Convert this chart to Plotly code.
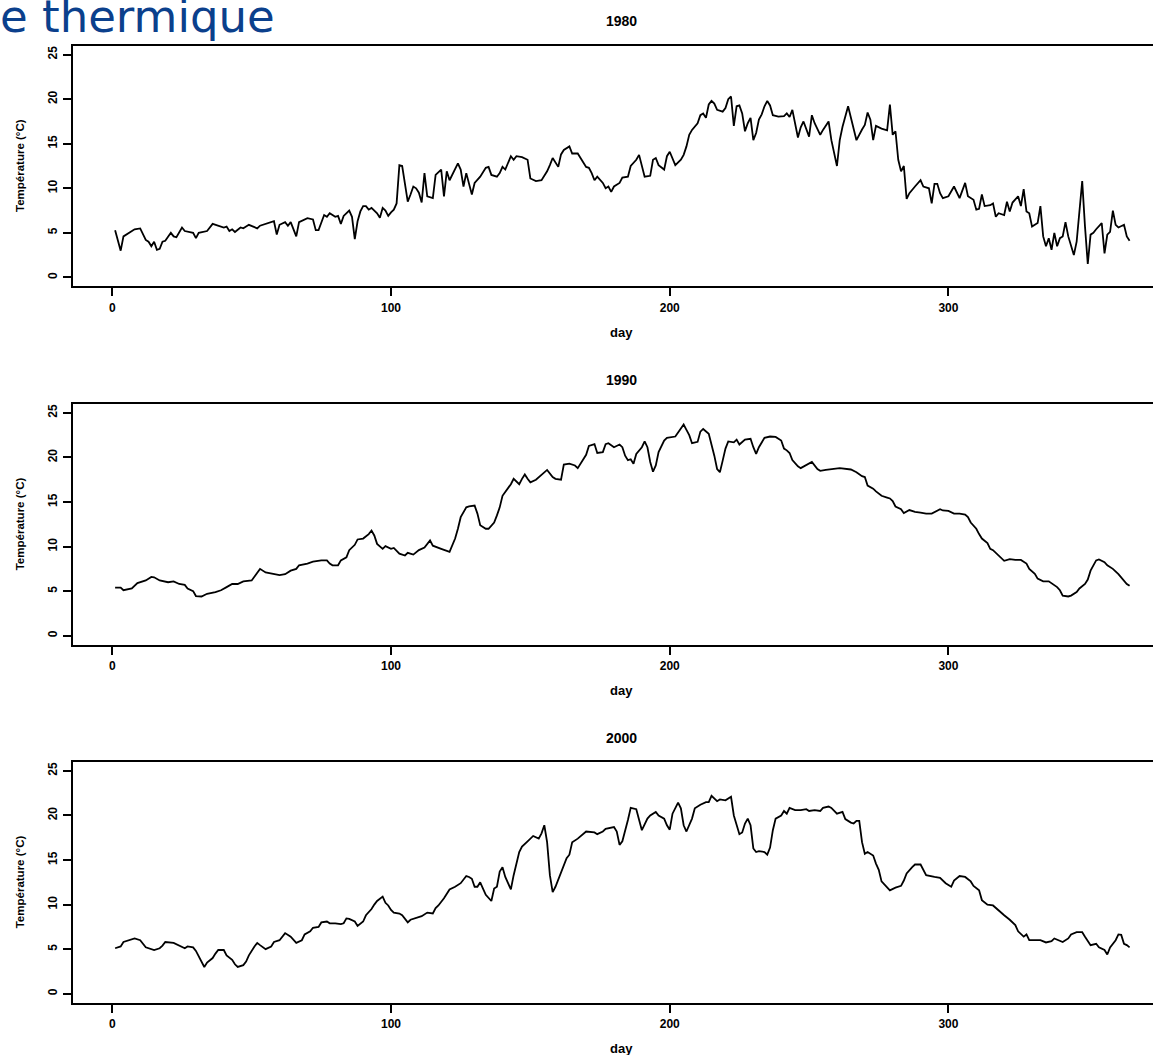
import plotly.graph_objects as go

# Daily water temperature (°C) by day of year, three years
obs_1980 = [(1,5.3),(3,3.0),(4,4.6),(6,5.0),(8,5.4),(10,5.5),(12,4.2),(13,4.0),(14,3.5),(15,4.0),(16,3.1),(17,3.2),(18,4.0),(19,4.1),(21,5.0),(22,4.6),(23,4.5),(25,5.6),(26,5.2),(29,5.0),(30,4.4),(31,5.0),(34,5.2),(36,6.0),(38,5.8),(40,5.6),(41,5.7),(42,5.2),(43,5.4),(44,5.1),(46,5.6),(47,5.5),(49,5.9),(52,5.5),(53,5.8),(56,6.1),(58,6.3),(59,4.8),(60,5.9),(62,6.2),(63,5.8),(64,6.2),(66,4.6),(67,6.2),(70,6.65),(72,6.5),(73,5.3),(74,5.3),(76,7.0),(77,6.8),(78,7.2),(80,6.8),(81,6.9),(82,6.0),(83,6.9),(85,7.5),(86,6.8),(87,4.3),(88,6.3),(89,7.4),(90,8.0),(91,8.0),(92,7.6),(93,7.8),(95,7.2),(96,6.7),(97,7.8),(98,7.5),(99,6.9),(100,7.3),(101,7.6),(102,8.3),(103,12.6),(104,12.5),(105,10.2),(106,8.5),(107,9.3),(108,10.2),(109,10.0),(110,9.5),(111,8.4),(112,11.7),(113,9.1),(114,9.0),(115,8.9),(116,11.5),(118,12.1),(119,9.1),(120,11.9),(121,10.9),(124,12.8),(125,12.1),(126,10.2),(127,11.7),(128,10.6),(129,9.3),(130,10.6),(132,11.3),(134,12.3),(135,12.4),(136,11.5),(138,11.3),(139,11.7),(140,12.4),(141,12.1),(143,13.6),(144,13.2),(145,13.6),(147,13.5),(149,13.2),(150,11.1),(152,10.8),(154,10.9),(156,11.9),(157,12.6),(158,13.4),(160,12.4),(161,13.8),(162,14.3),(164,14.7),(165,13.9),(167,13.9),(168,13.4),(170,12.4),(171,12.3),(172,11.7),(173,10.9),(174,11.3),(176,10.6),(177,10.0),(178,10.2),(179,9.6),(180,10.2),(182,10.6),(183,11.2),(185,11.3),(186,12.5),(188,13.2),(189,13.75),(190,12.4),(191,11.3),(193,11.4),(194,13.2),(195,13.4),(196,12.6),(198,12.1),(199,13.6),(200,14.1),(201,13.4),(202,12.6),(204,13.2),(205,13.75),(206,14.7),(207,16.0),(208,16.55),(210,17.3),(211,18.2),(212,18.4),(213,17.9),(214,19.4),(215,19.8),(216,19.5),(217,18.8),(219,18.6),(220,19.0),(221,20.0),(222,20.3),(223,17.0),(224,19.2),(225,19.3),(226,18.4),(227,16.4),(228,17.3),(229,17.9),(230,15.4),(231,16.2),(232,17.7),(233,18.3),(234,19.2),(235,19.8),(236,19.3),(237,18.2),(239,18.05),(241,18.1),(242,18.4),(243,18.0),(244,18.8),(245,17.3),(246,15.7),(247,16.85),(248,17.5),(250,15.8),(251,18.2),(252,17.3),(254,16.0),(255,16.55),(257,17.5),(258,15.4),(260,12.5),(261,15.4),(262,16.9),(264,19.2),(266,16.55),(267,15.4),(269,16.6),(270,17.1),(271,18.5),(272,17.7),(273,15.4),(274,17.0),(276,16.7),(278,16.5),(279,19.4),(280,16.0),(281,16.4),(282,13.2),(283,11.9),(284,12.5),(285,8.8),(286,9.45),(288,10.2),(290,10.9),(291,10.2),(293,10.0),(294,8.3),(295,10.5),(296,10.5),(297,9.45),(298,8.9),(300,9.1),(302,10.2),(303,9.45),(304,8.9),(306,10.6),(307,9.1),(309,8.7),(310,7.6),(311,7.7),(312,9.3),(313,8.0),(315,8.1),(316,8.3),(317,6.8),(318,7.2),(320,7.0),(321,8.5),(322,7.4),(323,8.4),(324,8.7),(325,9.1),(326,8.0),(327,9.9),(328,7.4),(329,7.2),(330,5.7),(332,6.1),(333,8.0),(334,4.6),(335,3.5),(336,4.4),(337,3.1),(338,5.0),(339,3.5),(340,4.4),(341,4.6),(342,6.2),(343,4.6),(345,2.5),(346,4.0),(348,10.8),(349,5.7),(350,1.5),(351,4.8),(352,5.0),(353,5.4),(355,6.1),(356,2.7),(357,4.8),(358,5.1),(359,7.5),(360,5.9),(361,5.6),(363,5.9),(364,4.6),(365,4.1)]

obs_1990 = [(1,5.4),(3,5.4),(4,5.1),(6,5.2),(7,5.3),(9,5.9),(12,6.2),(14,6.6),(15,6.55),(17,6.2),(20,6.0),(22,6.1),(24,5.8),(26,5.7),(27,5.3),(29,5.0),(30,4.45),(32,4.4),(34,4.7),(37,4.9),(39,5.1),(41,5.45),(43,5.8),(45,5.8),(47,6.1),(50,6.2),(52,7.1),(53,7.5),(55,7.1),(58,6.9),(60,6.8),(62,6.9),(64,7.3),(66,7.5),(67,7.9),(70,8.1),(72,8.3),(75,8.45),(77,8.45),(78,8.1),(79,7.9),(81,7.9),(82,8.45),(84,8.8),(85,9.6),(87,10.2),(88,10.8),(90,10.9),(92,11.4),(93,11.8),(94,11.25),(95,10.3),(97,9.75),(98,10.05),(100,9.75),(101,9.85),(103,9.2),(105,9.0),(106,9.3),(108,9.1),(110,9.6),(112,9.9),(114,10.7),(115,10.1),(116,10.0),(118,9.75),(121,9.4),(122,10.2),(123,10.9),(124,12.0),(125,13.3),(127,14.4),(128,14.5),(130,14.6),(131,13.7),(132,12.4),(134,12.0),(135,12.0),(137,12.7),(138,13.5),(139,14.4),(140,15.7),(142,16.6),(143,17.0),(144,17.6),(146,17.0),(147,17.6),(148,18.1),(149,17.6),(150,17.2),(152,17.5),(154,18.0),(156,18.6),(158,17.8),(159,17.6),(161,17.5),(162,19.2),(164,19.3),(166,19.1),(167,18.8),(168,19.3),(169,19.7),(170,20.3),(171,21.3),(173,21.5),(174,20.5),(176,20.6),(177,21.5),(178,21.6),(180,21.15),(182,21.45),(183,21.15),(184,20.2),(185,19.7),(186,19.8),(187,19.3),(188,20.4),(190,21.15),(191,21.8),(192,21.15),(193,19.5),(194,18.4),(195,19.1),(196,20.6),(198,21.9),(199,22.2),(202,22.35),(203,22.8),(205,23.7),(206,23.1),(207,22.5),(208,21.6),(210,21.75),(211,22.9),(212,23.2),(214,22.65),(215,21.5),(216,20.2),(217,18.7),(218,18.35),(219,19.65),(220,21.0),(221,21.8),(223,21.7),(224,22.0),(225,21.45),(227,22.0),(229,22.1),(230,21.15),(231,20.4),(232,21.15),(234,22.2),(236,22.35),(238,22.3),(240,21.9),(241,21.0),(242,20.8),(243,20.5),(244,19.7),(246,19.0),(247,18.8),(249,19.2),(251,19.5),(253,18.7),(254,18.5),(256,18.6),(259,18.7),(261,18.8),(265,18.65),(267,18.35),(269,17.9),(270,17.8),(271,16.85),(273,16.5),(274,16.2),(276,15.7),(278,15.5),(279,15.4),(280,15.1),(281,14.5),(283,14.2),(284,13.75),(286,14.1),(287,14.0),(288,13.9),(290,13.8),(292,13.7),(294,13.7),(296,14.05),(297,14.2),(298,14.05),(300,14.0),(302,13.7),(304,13.7),(306,13.6),(307,13.3),(308,12.7),(310,12.0),(311,11.4),(312,10.9),(314,10.4),(315,9.75),(316,9.6),(318,9.0),(319,8.6),(320,8.4),(322,8.6),(324,8.5),(326,8.5),(328,8.1),(329,7.5),(331,6.95),(332,6.4),(334,6.1),(336,6.1),(337,5.9),(339,5.45),(340,5.1),(341,4.5),(343,4.4),(344,4.5),(346,4.9),(347,5.3),(349,5.8),(350,6.3),(351,7.3),(353,8.45),(354,8.55),(356,8.25),(357,7.9),(359,7.5),(361,6.9),(363,6.2),(364,5.8),(365,5.6)]

obs_2000 = [(1,5.1),(3,5.3),(4,5.8),(6,6.0),(8,6.2),(10,6.0),(11,5.6),(12,5.2),(15,4.9),(17,5.1),(18,5.4),(19,5.8),(22,5.7),(24,5.4),(26,5.1),(27,5.3),(29,5.2),(30,4.8),(32,3.6),(33,3.0),(34,3.5),(36,4.0),(37,4.5),(38,4.9),(40,4.9),(41,4.3),(43,3.8),(44,3.3),(45,3.0),(47,3.2),(48,3.6),(49,4.3),(51,5.3),(52,5.7),(53,5.45),(55,5.0),(57,5.3),(58,5.8),(60,6.0),(61,6.4),(62,6.8),(64,6.4),(65,6.0),(66,5.7),(68,6.0),(69,6.65),(71,7.0),(72,7.4),(74,7.5),(75,8.0),(77,8.1),(78,7.9),(80,7.9),(82,7.8),(83,7.9),(84,8.45),(85,8.4),(87,8.1),(88,7.6),(90,8.1),(91,8.8),(93,9.5),(94,10.0),(95,10.4),(97,10.9),(98,10.2),(99,9.9),(100,9.4),(101,9.1),(103,9.0),(104,8.8),(105,8.45),(106,8.0),(107,8.3),(109,8.5),(111,8.7),(113,9.1),(115,9.0),(116,9.6),(117,9.9),(119,10.7),(120,11.2),(121,11.7),(123,12.0),(125,12.4),(127,13.2),(128,13.1),(129,12.9),(130,12.0),(131,12.0),(132,12.5),(133,11.8),(134,11.1),(136,10.4),(137,11.8),(138,12.0),(139,13.7),(140,14.2),(141,13.1),(143,11.7),(144,13.3),(146,15.9),(147,16.5),(149,17.1),(150,17.4),(151,17.7),(153,17.4),(154,18.0),(155,18.9),(156,17.0),(157,13.3),(158,11.4),(159,12.0),(161,13.5),(163,15.2),(164,15.6),(165,17.0),(167,17.4),(169,18.0),(170,18.2),(173,18.1),(174,17.9),(176,18.2),(177,18.5),(180,18.7),(181,18.2),(182,16.7),(183,17.1),(185,19.5),(186,20.85),(188,20.7),(189,19.5),(190,18.35),(192,19.65),(193,20.0),(195,20.4),(196,20.0),(198,19.65),(199,18.9),(200,18.4),(201,20.2),(203,21.45),(204,20.8),(205,18.9),(206,18.2),(208,19.65),(209,20.8),(211,21.2),(213,21.5),(214,21.5),(215,22.2),(217,21.6),(218,21.8),(220,21.7),(222,22.1),(223,20.0),(225,17.9),(226,18.1),(227,19.1),(228,19.65),(229,18.9),(230,16.3),(231,15.9),(232,16.0),(234,15.9),(235,15.6),(236,16.4),(237,18.35),(238,19.65),(240,20.0),(241,20.5),(242,20.2),(243,20.85),(245,20.6),(247,20.6),(249,20.7),(250,20.5),(252,20.6),(254,20.5),(255,20.85),(257,21.0),(258,20.85),(260,20.2),(262,20.4),(263,19.6),(265,19.2),(266,19.1),(267,19.4),(268,19.4),(269,17.0),(270,15.7),(271,15.9),(273,15.5),(274,14.6),(275,13.9),(276,12.6),(277,12.25),(279,11.6),(281,11.9),(283,12.1),(284,12.7),(285,13.5),(287,14.2),(288,14.5),(290,14.5),(291,13.9),(292,13.3),(295,13.1),(297,13.0),(299,12.4),(301,12.0),(302,12.7),(304,13.2),(306,13.1),(308,12.6),(309,12.1),(311,11.6),(312,10.5),(314,10.0),(316,9.9),(317,9.6),(319,9.1),(320,8.8),(322,8.3),(324,7.7),(325,7.0),(327,6.4),(328,6.65),(329,6.0),(331,6.0),(333,6.0),(335,5.75),(337,5.9),(338,6.2),(340,5.9),(341,5.8),(343,6.2),(344,6.65),(346,6.9),(348,6.9),(349,6.4),(351,5.45),(353,5.6),(354,5.2),(356,4.9),(357,4.4),(358,5.2),(360,6.0),(361,6.65),(362,6.6),(363,5.6),(364,5.45),(365,5.2)]

years = ["1980", "1990", "2000"]
series = [obs_1980, obs_1990, obs_2000]
x_ticks = [0, 100, 200, 300]
y_ticks = [0, 5, 10, 15, 20, 25]
x_title = "day"
y_title = "Température (°C)"
heading = "e thermique"

# page geometry (pixels)
W, H = 1153, 1055
plot_left = 73.3
panel_tops = [45.7, 404.0, 762.0]
panel_h = 240.6

def fy(py):
    return (H - py) / H

def fx(px):
    return px / W

fig = go.Figure()
sans = "Liberation Sans, Arial, sans-serif"
axis_font = dict(family=sans, size=12, color="#000000", weight="bold")

annotations = [
    dict(text=heading, xref="paper", yref="paper", x=fx(-2), y=fy(-12),
         xanchor="left", yanchor="top", showarrow=False,
         font=dict(family="DejaVu Sans, sans-serif", size=45, color="#0B408C")),
]

for i, (yr, obs) in enumerate(zip(years, series)):
    n = "" if i == 0 else str(i + 1)
    days = [d for d, _ in obs]
    temps = [t for _, t in obs]
    fig.add_trace(go.Scatter(x=days, y=temps, mode="lines", xaxis="x" + n, yaxis="y" + n,
                             line=dict(color="#000000", width=1.8), showlegend=False,
                             hoverinfo="skip"))
    top = panel_tops[i]
    bot = top + panel_h
    fig.update_layout(**{
        "xaxis" + n: dict(domain=[fx(plot_left), 1.0], range=[-14.0, 373.4], anchor="y" + n,
                          showline=True, mirror=True, linecolor="#000000", linewidth=2,
                          ticks="outside", ticklen=8, tickwidth=2, tickcolor="#000000",
                          tickvals=x_ticks, ticktext=[str(v) for v in x_ticks],
                          tickfont=axis_font, showgrid=False, zeroline=False,
                          ticklabelstandoff=1),
        "yaxis" + n: dict(domain=[fy(bot), fy(top)], range=[-1.0, 26.0], anchor="x" + n,
                          showline=True, mirror=False, linecolor="#000000", linewidth=2,
                          ticks="outside", ticklen=8, tickwidth=2, tickcolor="#000000",
                          tickvals=y_ticks, ticktext=[str(v) for v in y_ticks],
                          tickangle=-90, tickfont=axis_font, showgrid=False, zeroline=False,
                          ticklabelstandoff=2),
    })
    mid_x = fx((plot_left + 1170) / 2)
    annotations += [
        dict(text="<b>" + yr + "</b>", xref="paper", yref="paper", x=mid_x, y=fy(top - 24.5),
             xanchor="center", yanchor="middle", showarrow=False,
             font=dict(family=sans, size=14, color="#000000")),
        dict(text=x_title, xref="paper", yref="paper", x=mid_x, y=fy(bot + 46),
             xanchor="center", yanchor="middle", showarrow=False,
             font=dict(family=sans, size=13, color="#000000", weight="bold")),
        dict(text=y_title, xref="paper", yref="paper", x=fx(20), y=fy(top + panel_h / 2),
             xanchor="center", yanchor="middle", showarrow=False, textangle=-90,
             font=dict(family=sans, size=11.5, color="#000000", weight="bold")),
    ]

fig.update_layout(width=W, height=H, margin=dict(l=0, r=0, t=0, b=0),
                  paper_bgcolor="#ffffff", plot_bgcolor="#ffffff",
                  annotations=annotations)

fig.write_html("out.html")
